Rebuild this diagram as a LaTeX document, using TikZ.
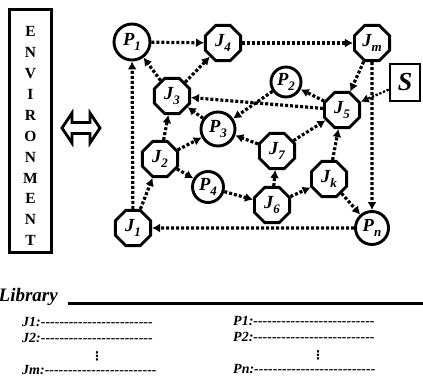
\documentclass[tikz,border=0pt]{standalone}
\usepackage{fontspec}
\setmainfont{Liberation Serif}
\newfontfamily\dejavu{DejaVu Sans}
\usetikzlibrary{shapes.geometric,arrows.meta}
\newcommand\lbl{\fontsize{18.5}{19}\selectfont\bfseries\itshape}
\newcommand\nm[2]{#1\raisebox{-0.5ex}{\fontsize{13}{13}\selectfont #2}}
\newcommand\hy[1]{\foreach\q in {1,...,#1}{-\kern0pt}}
\tikzset{
  oct/.style={regular polygon, regular polygon sides=8, draw, line width=2.9pt,
    minimum size=38pt, inner sep=0pt, font=\lbl},
  circ/.style={circle, draw, line width=2.9pt, minimum size=#1, inner sep=0pt, font=\lbl},
  conn/.style={line width=3.2pt, dash pattern=on 3pt off 2pt,
    -{Latex[length=8pt,width=9pt]}},
  envl/.style={font=\fontsize{15.5}{16}\selectfont\bfseries, inner sep=0pt},
  entry/.style={anchor=base west, inner sep=0pt, font=\fontsize{14}{14}\selectfont\bfseries\itshape},
  vdot/.style={anchor=center, inner sep=0pt, font=\fontsize{12}{12}\selectfont\dejavu\bfseries},
}
\begin{document}
\begin{tikzpicture}[x=1pt,y=-1pt]
\useasboundingbox (0,0) rectangle (423,385);
% environment box
\node[draw, line width=3.4pt, minimum width=42pt, minimum height=243pt, inner sep=0pt] (env) at (30.5,131) {};
\foreach \ch [count=\k from 0] in {E,N,V,I,R,O,N,M,E,N,T}
  \node[envl] (e\k) at (30.5,31.7+20.9*\k) {\ch};
% double arrow
\draw[line width=2.8pt, line join=miter] (62,128) -- (72,113) -- (72,122.5) -- (90,122.5) -- (90,113)
  -- (100,128) -- (90,143) -- (90,133.5) -- (72,133.5) -- (72,143) -- cycle;
% nodes
\node[circ=36pt] (P1) at (132,42) {\nm{P}{1}};
\node[oct] (J4) at (223,43) {\nm{J}{4}};
\node[oct] (Jm) at (372,43) {\nm{J}{m}};
\node[oct] (J3) at (172,96) {\nm{J}{3}};
\node[circ=30pt] (P2) at (286,82) {\nm{P}{2}};
\node[oct] (J5) at (342,110) {\nm{J}{5}};
\node[draw, line width=2.6pt, minimum width=30pt, minimum height=37pt, inner sep=0pt,
  font=\fontsize{26}{26}\selectfont\bfseries\itshape] (S) at (405,82.5) {S};
\node[circ=34pt] (P3) at (218,129) {\nm{P}{3}};
\node[oct] (J2) at (160,159) {\nm{J}{2}};
\node[oct] (J7) at (277,151) {\nm{J}{7}};
\node[circ=31pt] (P4) at (208,187) {\nm{P}{4}};
\node[oct] (Jk) at (329,179) {\nm{J}{k}};
\node[oct] (J6) at (272,205) {\nm{J}{6}};
\node[oct] (J1) at (133,228) {\nm{J}{1}};
\node[circ=33pt] (Pn) at (372,228) {\nm{P}{n}};
% connectors
\draw[conn] (P1) -- (J4);
\draw[conn] (J4) -- (Jm);
\draw[conn] (J1) -- (P1);
\draw[conn] (J3) -- (P1);
\draw[conn] (J3) -- (J4);
\draw[conn] (J2) -- (J3);
\draw[conn] (J1) -- (J2);
\draw[conn] (J2) -- (P3);
\draw[conn] (J2) -- (P4);
\draw[conn] (P3) -- (J3);
\draw[conn] (J5) -- (J3);
\draw[conn] (J5) -- (P2);
\draw[conn] (P2) -- (P3);
\draw[conn] (Jm) -- (J5);
\draw[conn] (Jm) -- (Pn);
\draw[conn, line width=2.3pt, dash pattern=on 2.3pt off 1.7pt] (S) -- (J5);
\draw[conn] (J7) -- (P3);
\draw[conn] (J7) -- (J5);
\draw[conn] (J6) -- (J7);
\draw[conn] (P4) -- (J6);
\draw[conn] (J6) -- (Jk);
\draw[conn] (Jk) -- (J5);
\draw[conn] (Jk) -- (Pn);
\draw[conn] (Pn) -- (J1);
% library
\node[anchor=base west, inner sep=0pt, font=\fontsize{19}{19}\selectfont\bfseries\itshape] (lib) at (-1.5,301.5) {Library};
\coordinate (ul1) at (68,303.5);
\coordinate (ul2) at (423,303.5);
\draw[line width=3.2pt] (ul1) -- (ul2);
\node[entry] (l1) at (22,326.5) {J1:\hy{24}};
\node[entry] (l2) at (22,342.5) {J2:\hy{24}};
\node[vdot] (vd1) at (97,356.5) {⋮};
\node[entry] (l3) at (22,374) {Jm:\hy{24}};
\node[entry] (r1) at (233,325.5) {P1:\hy{26}};
\node[entry] (r2) at (233,341.5) {P2:\hy{26}};
\node[vdot] (vd2) at (318,355.5) {⋮};
\node[entry] (r3) at (233,373) {Pn:\hy{26}};
\end{tikzpicture}
\end{document}
